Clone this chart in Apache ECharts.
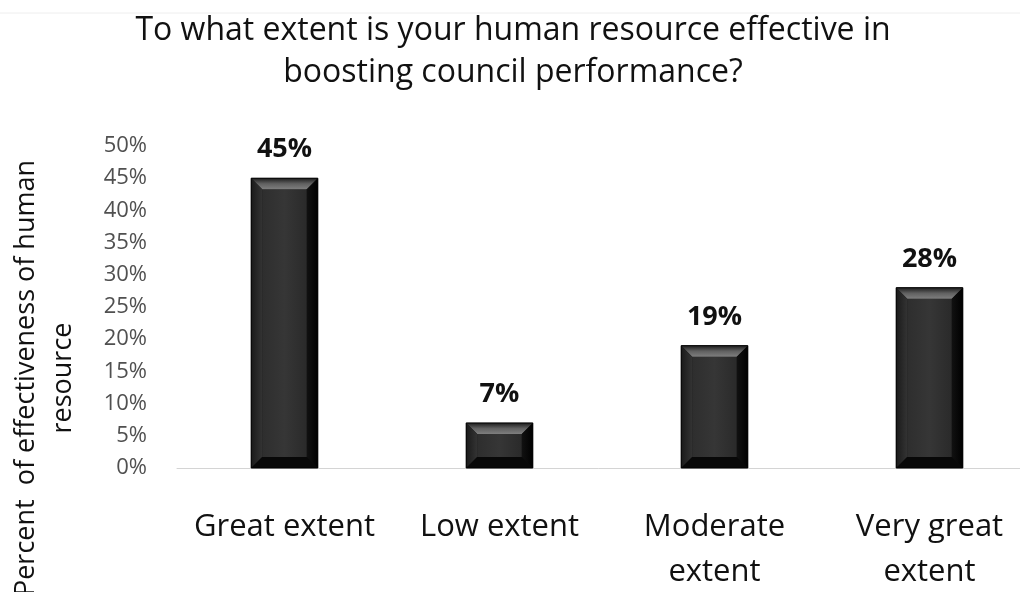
<!DOCTYPE html>
<html>
<head>
<meta charset="utf-8">
<title>Human resource effectiveness</title>
<script src="https://cdn.jsdelivr.net/npm/echarts@6/dist/echarts.min.js"></script>
<style>
  html, body { margin: 0; padding: 0; background: #fff; }
  #chart { width: 1020px; height: 592px; }
</style>
</head>
<body>
<div id="chart"></div>
<script>
// Survey responses: share of councils per answer
const categories = ['Great extent', 'Low extent', 'Moderate\nextent', 'Very great\nextent'];
const percentValues = [45, 7, 19, 28];
const yAxisTicks = { min: 0, max: 50, interval: 5 };
const chartTitle = 'To what extent is your human resource effective in\nboosting council performance?';
const yAxisTitle = 'Percent  of effectiveness of human\nresource';

const FONT = '"Open Sans", sans-serif';
const chart = echarts.init(document.getElementById('chart'), null, { renderer: 'canvas' });

// Bevelled dark bar: outer block with lighter top edge, dark right/bottom edges
function renderBevelBar(params, api) {
  const idx = api.value(0);
  const v = api.value(1);
  const top = api.coord([idx, v]);
  const base = api.coord([idx, 0]);
  const w = api.size([1, 0])[0] * 0.31;
  const x0 = top[0] - w / 2, x1 = top[0] + w / 2;
  const y0 = top[1], y1 = base[1];
  const b = Math.min(11, (y1 - y0) / 2.2);
  const children = [
    { type: 'rect', shape: { x: x0, y: y0, width: w, height: y1 - y0 },
      style: { fill: '#0d0d0d' } },
    // face
    { type: 'rect', shape: { x: x0 + b, y: y0 + b, width: w - 2 * b, height: Math.max(0, y1 - y0 - 2 * b) },
      style: { fill: new echarts.graphic.LinearGradient(0, 0, 1, 0, [
        { offset: 0, color: '#2e2e2e' }, { offset: 0.5, color: '#363636' }, { offset: 1, color: '#2a2a2a' }]) } },
    // top bevel
    { type: 'polygon', shape: { points: [[x0, y0], [x1, y0], [x1 - b, y0 + b], [x0 + b, y0 + b]] },
      style: { fill: new echarts.graphic.LinearGradient(0, 0, 0, 1, [
        { offset: 0, color: '#1c1c1c' }, { offset: 0.5, color: '#606060' }, { offset: 1, color: '#7e7e7e' }]) } },
    // left bevel
    { type: 'polygon', shape: { points: [[x0, y0], [x0 + b, y0 + b], [x0 + b, y1 - b], [x0, y1]] },
      style: { fill: new echarts.graphic.LinearGradient(0, 0, 1, 0, [
        { offset: 0, color: '#1a1a1a' }, { offset: 1, color: '#333333' }]) } },
    // right bevel
    { type: 'polygon', shape: { points: [[x1, y0], [x1, y1], [x1 - b, y1 - b], [x1 - b, y0 + b]] },
      style: { fill: new echarts.graphic.LinearGradient(0, 0, 1, 0, [
        { offset: 0, color: '#111111' }, { offset: 1, color: '#000000' }]) } },
    // bottom bevel
    { type: 'polygon', shape: { points: [[x0, y1], [x1, y1], [x1 - b, y1 - b], [x0 + b, y1 - b]] },
      style: { fill: '#080808' } },
    // outline
    { type: 'rect', shape: { x: x0, y: y0, width: w, height: y1 - y0 },
      style: { fill: 'none', stroke: '#000', lineWidth: 1 } },
    // value label
    { type: 'text', x: top[0], y: y0 - 15,
      style: { text: v + '%', fill: '#111', font: 'bold 27px ' + FONT,
        textAlign: 'center', textVerticalAlign: 'bottom' } }
  ];
  return { type: 'group', children };
}

const option = {
  backgroundColor: '#ffffff',
  animation: false,
  graphic: [
    { type: 'line', shape: { x1: 0, y1: 13, x2: 1020, y2: 13 },
      style: { stroke: '#eeeeee', lineWidth: 1 }, silent: true },
    { type: 'text', x: 513, y: 52,
      style: { text: chartTitle, fill: '#111', font: '32px ' + FONT, lineHeight: 42,
        textAlign: 'center', textVerticalAlign: 'middle' } },
    { type: 'text', x: 45, y: 378, rotation: Math.PI / 2,
      style: { text: yAxisTitle, fill: '#111', font: '27px ' + FONT, lineHeight: 37,
        textAlign: 'center', textVerticalAlign: 'middle' } }
  ],
  grid: { left: 177, right: -17, top: 146, bottom: 124, containLabel: false, outerBoundsMode: 'none' },
  xAxis: {
    type: 'category',
    data: categories,
    boundaryGap: true,
    axisLine: { show: true, lineStyle: { color: '#d4d4d4', width: 1 } },
    axisTick: { show: false },
    axisLabel: { color: '#111', fontFamily: 'Open Sans', fontSize: 31, lineHeight: 45, margin: 37, interval: 0 }
  },
  yAxis: {
    type: 'value',
    min: yAxisTicks.min,
    max: yAxisTicks.max,
    interval: yAxisTicks.interval,
    axisLine: { show: false },
    axisTick: { show: false },
    splitLine: { show: false },
    axisLabel: { formatter: '{value}%', color: '#505050', fontFamily: 'Open Sans', fontSize: 22, margin: 30 }
  },
  series: [{
    type: 'custom',
    renderItem: renderBevelBar,
    data: percentValues.map((v, i) => [i, v]),
    encode: { x: 0, y: 1 },
    clip: false
  }]
};

chart.setOption(option);
</script>
</body>
</html>
